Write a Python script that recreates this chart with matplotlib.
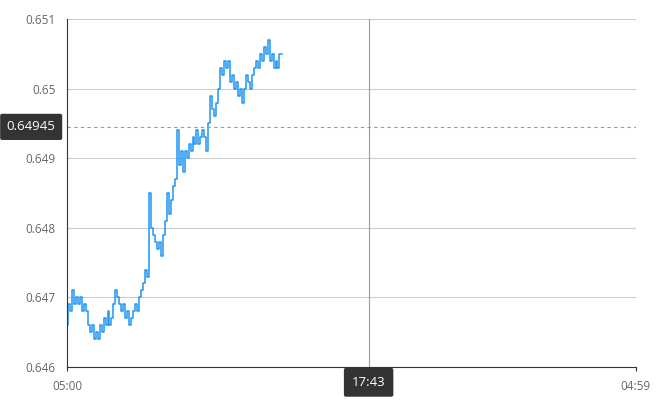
import datetime as dt
import matplotlib
matplotlib.use("Agg")
import matplotlib.pyplot as plt
import matplotlib.dates as mdates
import matplotlib.transforms as mtransforms

# price readings every 5 minutes from 05:00
prices = [
    0.6466, 0.6469, 0.6468, 0.6471, 0.6469, 0.6470, 0.6469, 0.6470, 0.6468, 0.6469,
    0.6468, 0.6466, 0.6465, 0.6466, 0.6464, 0.6465, 0.6464, 0.6466, 0.6465, 0.6467,
    0.6466, 0.6468, 0.6466, 0.6467, 0.6469, 0.6471, 0.6470, 0.6469, 0.6468, 0.6469,
    0.6467, 0.6468, 0.6466, 0.6467, 0.6468, 0.6469, 0.6468, 0.6470, 0.6471, 0.6472,
    0.6474, 0.6473, 0.6485, 0.6480, 0.6479, 0.6478, 0.6477, 0.6478, 0.6476, 0.6479,
    0.6481, 0.6485, 0.6482, 0.6484, 0.6486, 0.6487, 0.6494, 0.6489, 0.6491, 0.6488,
    0.6491, 0.6490, 0.6492, 0.6491, 0.6493, 0.6492, 0.6494, 0.6492, 0.6493, 0.6494,
    0.6493, 0.6491, 0.6495, 0.6499, 0.6497, 0.6496, 0.6498, 0.6500, 0.6503, 0.6502,
    0.6504, 0.6503, 0.6504, 0.6501, 0.6502, 0.6500, 0.6501, 0.6499, 0.6500, 0.6498,
    0.6500, 0.6502, 0.6501, 0.6500, 0.6502, 0.6503, 0.6504, 0.6503, 0.6505, 0.6504,
    0.6506, 0.6505, 0.6507, 0.6504, 0.6505, 0.6503, 0.6504, 0.6503, 0.6505, 0.6505,
]
y_ticks = [0.646, 0.647, 0.648, 0.649, 0.65, 0.651]
y_tick_labels = ["0.646", "0.647", "0.648", "0.649", "0.65", "0.651"]

start = dt.datetime(2024, 1, 1, 5, 0)
end = dt.datetime(2024, 1, 2, 4, 59)
cursor_time = dt.datetime(2024, 1, 1, 17, 43)
cursor_price = 0.64945

times = [start + dt.timedelta(minutes=5 * i) for i in range(len(prices))]

plt.rcParams["font.family"] = ["Open Sans", "DejaVu Sans"]

fig = plt.figure(figsize=(6.7, 4), dpi=100)
ax = fig.add_axes([0.1, 0.0825, 0.849, 0.87])

ax.plot(times, prices, color="#2196f3", lw=1.1, drawstyle="steps-mid")

ax.set_xlim(start, end)
ax.set_ylim(0.646, 0.651)
ax.set_yticks(y_ticks)
ax.set_yticklabels(y_tick_labels)
ax.set_xticks([mdates.date2num(start), mdates.date2num(end)])
ax.xaxis.set_major_formatter(mdates.DateFormatter("%H:%M"))

ax.grid(axis="y", color="#cccccc", lw=0.8)
ax.set_axisbelow(True)
for s in ["top", "right"]:
    ax.spines[s].set_visible(False)
ax.spines["left"].set_color("#333333")
ax.spines["bottom"].set_color("#333333")
ax.tick_params(axis="y", length=0, labelsize=8.5, labelcolor="#666666", pad=8)
ax.tick_params(axis="x", length=3, color="#333333", labelsize=8.5,
               labelcolor="#666666", pad=6)

# crosshair
ax.axvline(cursor_time, color="#999999", lw=0.8)
ax.axhline(cursor_price, color="#999999", lw=0.8, ls=(0, (3, 3)))

ytrans = mtransforms.blended_transform_factory(ax.transAxes, ax.transData)
ax.text(-0.02, cursor_price, "0.64945", transform=ytrans, ha="right", va="center",
        color="white", fontsize=9.5, clip_on=False,
        bbox=dict(boxstyle="round,pad=0.5,rounding_size=0.15", fc="#333333", ec="none"))
xtrans = mtransforms.blended_transform_factory(ax.transData, ax.transAxes)
ax.text(cursor_time, -0.044, "17:43", transform=xtrans, ha="center", va="center",
        color="white", fontsize=9.5, clip_on=False,
        bbox=dict(boxstyle="round,pad=0.6,rounding_size=0.15", fc="#333333", ec="none"))

fig.savefig("out.png", dpi=100)
